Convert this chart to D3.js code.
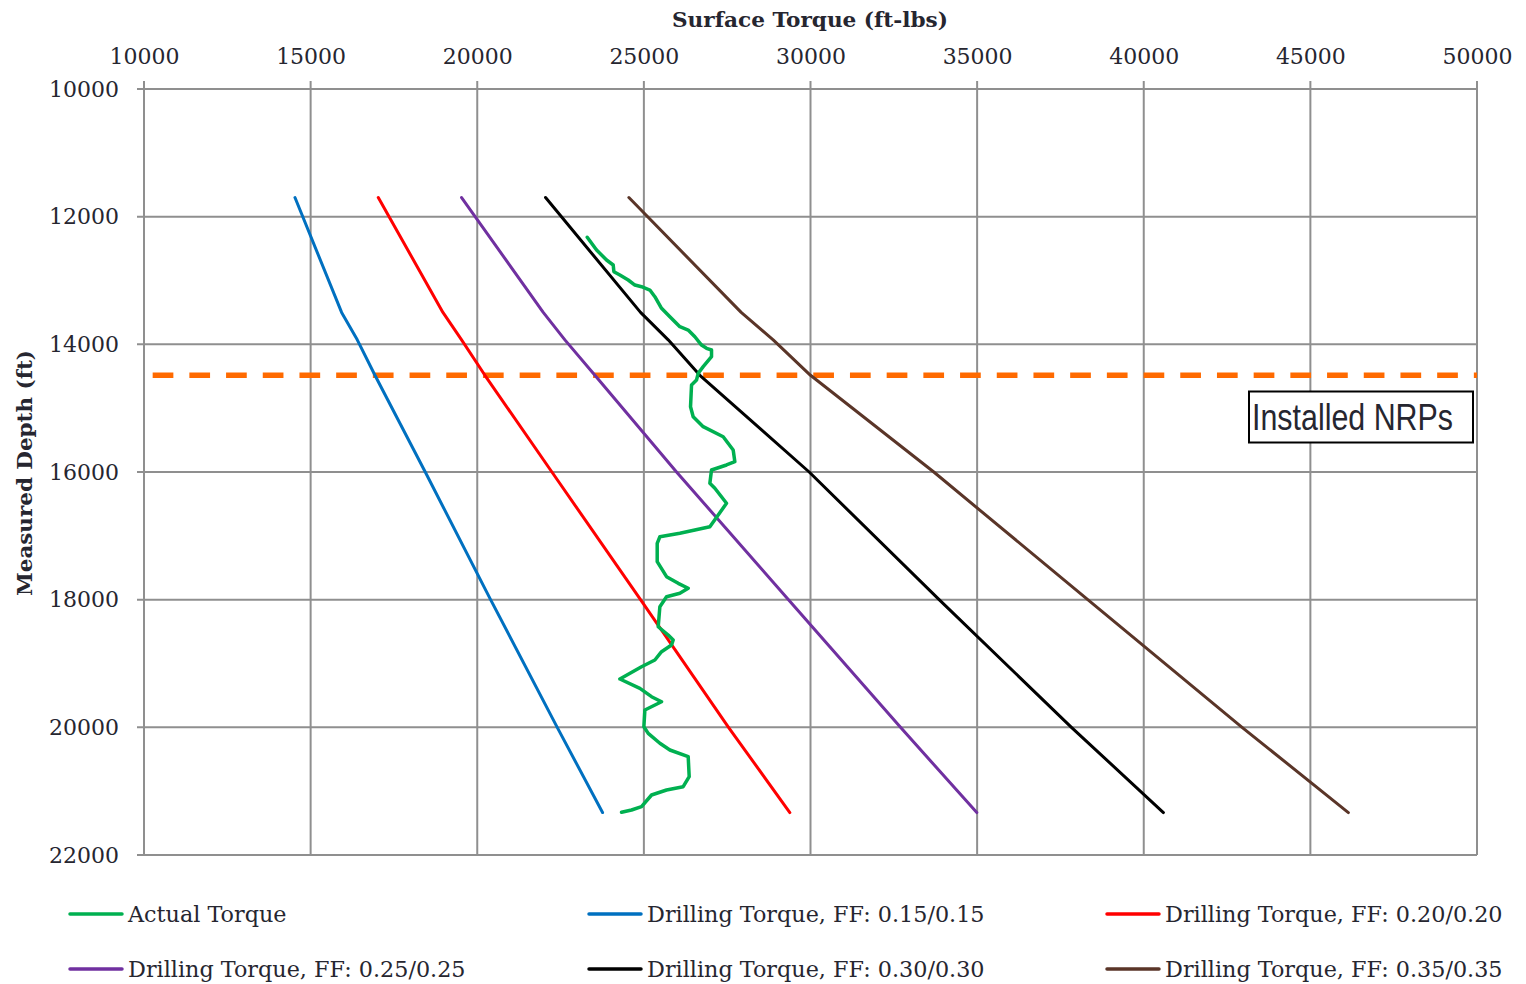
<!DOCTYPE html>
<html><head><meta charset="utf-8">
<script src="https://cdn.jsdelivr.net/npm/d3@7"></script>
<style>html,body{margin:0;padding:0;background:#fff;}svg{display:block;}</style>
</head><body>
<svg id="chart" width="1526" height="984"></svg>
<script>
const xTicks = [10000,15000,20000,25000,30000,35000,40000,45000,50000];
const yTicks = [10000,12000,14000,16000,18000,20000,22000];
const xTitle = "Surface Torque (ft-lbs)";
const yTitle = "Measured Depth (ft)";
const nrpDepth = 14485;
const nrpStart = 10260;
const nrpLabel = "Installed NRPs";

const actualTorque = [23300,23580,23880,24080,24100,24280,24530,24730,24930,25180,25330,25530,25780,26080,26330,26530,26730,26880,27030,27030,26780,26630,26580,26430,26400,26480,26780,27380,27680,27730,27480,27030,26980,27130,27480,27230,26980,26080,25480,25400,25400,25680,26030,26330,26080,25680,25480,25430,25730,25880,25830,25530,25330,24930,24280,24880,25230,25530,25030,25000,25130,25480,25780,26330,26360,26180,25680,25230,24930,24630,24330];
const actualDepth = [12323,12522,12679,12757,12862,12914,12992,13071,13097,13149,13254,13436,13567,13724,13776,13881,14011,14062,14089,14194,14350,14454,14559,14637,14977,15134,15290,15447,15655,15839,15890,15969,16177,16255,16490,16674,16857,16960,17014,17117,17405,17640,17744,17822,17900,17954,18110,18424,18554,18632,18710,18815,18945,19050,19243,19389,19520,19599,19729,19990,20094,20250,20355,20460,20773,20930,20982,21060,21243,21295,21331];

const modelDepth = [11700,13500,13930,14485,16000,18000,20000,21335];
const ff15 = [14530,15930,16400,16930,18440,20400,22400,23760];
const ff20 = [17030,18970,19530,20230,22240,24900,27540,29380];
const ff25 = [19530,21980,22630,23530,25980,29340,32700,34990];
const ff30 = [22050,24900,25730,26680,29960,33860,37830,40590];
const ff35 = [24550,27920,28880,30000,33700,38320,42950,46140];

const seriesNames = ["Actual Torque","Drilling Torque, FF: 0.15/0.15","Drilling Torque, FF: 0.20/0.20","Drilling Torque, FF: 0.25/0.25","Drilling Torque, FF: 0.30/0.30","Drilling Torque, FF: 0.35/0.35"];
const seriesColors = ["#00b050","#0070c0","#ff0000","#7030a0","#000000","#5a3528"];

const svg = d3.select("#chart");
const L = 144, R = 1477, T = 89, B = 855;
const x = d3.scaleLinear().domain([10000,50000]).range([L,R]);
const y = d3.scaleLinear().domain([10000,22000]).range([T,B]);
const gridColor = "#8f8f8f";
const textColor = "#262630";
const serif = "'DejaVu Serif', serif";

// grid
const g = svg.append("g");
g.selectAll("line.vx").data(xTicks).join("line")
  .attr("x1", d=>x(d)).attr("x2", d=>x(d)).attr("y1", T-8).attr("y2", B)
  .attr("stroke", gridColor).attr("stroke-width", 2);
g.selectAll("line.hy").data(yTicks).join("line")
  .attr("x1", L-7).attr("x2", R).attr("y1", d=>y(d)).attr("y2", d=>y(d))
  .attr("stroke", gridColor).attr("stroke-width", 2);

// axes labels via d3 axes (no lines)
const xAxis = svg.append("g").attr("transform", `translate(0,${T})`)
  .call(d3.axisTop(x).tickValues(xTicks).tickFormat(d3.format("d")).tickSize(0).tickPadding(25));
const yAxis = svg.append("g").attr("transform", `translate(${L},0)`)
  .call(d3.axisLeft(y).tickValues(yTicks).tickFormat(d3.format("d")).tickSize(0).tickPadding(25));
[xAxis,yAxis].forEach(a=>{
  a.select(".domain").remove();
  a.selectAll("text").attr("font-family", serif).attr("font-size", 22).attr("fill", textColor);
});

// titles
svg.append("text").attr("x", 810).attr("y", 27).attr("text-anchor","middle")
  .attr("font-family", serif).attr("font-weight","bold").attr("font-size", 20).attr("fill", textColor)
  .attr("textLength", 276).attr("lengthAdjust","spacingAndGlyphs").text(xTitle);
svg.append("text").attr("transform","translate(32,473) rotate(-90)").attr("text-anchor","middle")
  .attr("font-family", serif).attr("font-weight","bold").attr("font-size", 20).attr("fill", textColor)
  .attr("textLength", 246).attr("lengthAdjust","spacingAndGlyphs").text(yTitle);

// NRP dashed line
svg.append("line").attr("x1", x(nrpStart)).attr("x2", x(50000)).attr("y1", y(nrpDepth)).attr("y2", y(nrpDepth))
  .attr("stroke", "#ff6a00").attr("stroke-width", 5.5).attr("stroke-dasharray", "20.7 16");

// series
const line = d3.line().x(d=>x(d[0])).y(d=>y(d[1]));
const modelSeries = [ff15, ff20, ff25, ff30, ff35];
modelSeries.forEach((vals,i)=>{
  svg.append("path").datum(vals.map((v,j)=>[v, modelDepth[j]]))
    .attr("d", line).attr("fill","none").attr("stroke", seriesColors[i+1])
    .attr("stroke-width", 3).attr("stroke-linejoin","round").attr("stroke-linecap","round");
});
svg.append("path").datum(actualTorque.map((v,j)=>[v, actualDepth[j]]))
  .attr("d", line).attr("fill","none").attr("stroke", seriesColors[0])
  .attr("stroke-width", 3.5).attr("stroke-linejoin","round").attr("stroke-linecap","round");

// NRP label box
svg.append("rect").attr("x", 1249).attr("y", 391.5).attr("width", 224).attr("height", 51)
  .attr("fill","#fff").attr("stroke","#000").attr("stroke-width", 2);
svg.append("text").attr("x", 1252).attr("y", 430).attr("font-family","'Liberation Sans', Arial, sans-serif")
  .attr("font-size", 36).attr("fill", textColor).attr("textLength", 201).attr("lengthAdjust","spacingAndGlyphs")
  .text(nrpLabel);

// legend
const legX = [70, 589, 1107];
const legY = [914, 969];
seriesNames.forEach((name,i)=>{
  const lx = legX[i%3], ly = legY[Math.floor(i/3)];
  svg.append("line").attr("x1", lx).attr("x2", lx+52).attr("y1", ly).attr("y2", ly)
    .attr("stroke", seriesColors[i]).attr("stroke-width", 3.5).attr("stroke-linecap","round");
  svg.append("text").attr("x", lx+58).attr("y", ly+8).attr("font-family", serif).attr("font-size", 22.3)
    .attr("fill", textColor).text(name);
});
</script>
</body></html>
